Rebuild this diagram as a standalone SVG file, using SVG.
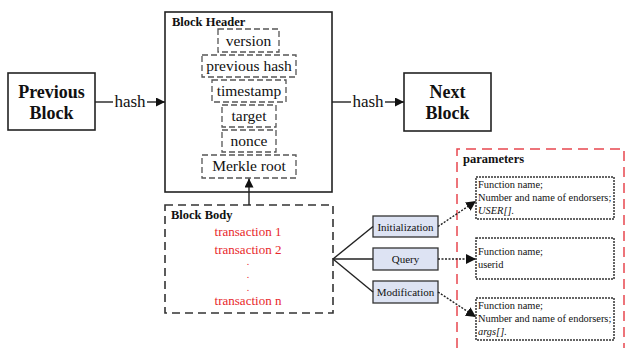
<svg xmlns="http://www.w3.org/2000/svg" width="625" height="348" viewBox="0 0 625 348">
  <defs>
    <marker id="arr" viewBox="0 0 10 10" refX="10" refY="5" markerWidth="9" markerHeight="9" markerUnits="userSpaceOnUse" orient="auto">
      <path d="M0,0 L10,5 L0,10 Z" fill="#111"/>
    </marker>
    <marker id="arr2" viewBox="0 0 10 10" refX="10" refY="5" markerWidth="10" markerHeight="10" markerUnits="userSpaceOnUse" orient="auto">
      <path d="M0,0 L10,5 L0,10 Z" fill="#111"/>
    </marker>
  </defs>
  <style>
    text { font-family: "Liberation Serif", "Times New Roman", serif; fill: #111; }
    .blk { fill: #fff; stroke: #222; stroke-width: 1.6; }
    .big { font-size: 18px; font-weight: bold; text-anchor: middle; }
    .lbl { font-size: 12.5px; font-weight: bold; }
    .fld { fill: #fff; stroke: #555; stroke-width: 1.3; stroke-dasharray: 6 3; }
    .fldt { font-size: 15.5px; text-anchor: middle; }
    .hash { font-size: 17px; text-anchor: middle; }
    .tx { font-size: 13px; text-anchor: middle; fill: #e8262a; }
    .txd { font-size: 10px; text-anchor: middle; fill: #e8262a; }
    .op { fill: #dde3f3; stroke: #333; stroke-width: 1.3; }
    .opt { font-size: 11px; text-anchor: middle; }
    .par { fill: #fff; stroke: #333; stroke-width: 1.5; stroke-dasharray: 2 1; }
    .part { font-size: 10.4px; }
    .link { stroke: #222; stroke-width: 1.4; fill: none; }
    .dot { stroke: #222; stroke-width: 1.4; fill: none; stroke-dasharray: 2 1.5; }
  </style>

  <!-- parameters frame -->
  <g id="parameters">
    <path d="M457,348 L457,149 L624,149 L624,348" fill="none" stroke="#e8474f" stroke-width="1.5" stroke-dasharray="10 6"/>
    <text class="lbl" x="463" y="163">parameters</text>
  </g>

  <g id="previous-block">
    <rect class="blk" x="8" y="73" width="87" height="57"/>
    <text class="big" x="51.5" y="98">Previous</text>
    <text class="big" x="51.5" y="119">Block</text>
  </g>

  <g id="next-block">
    <rect class="blk" x="404" y="73" width="87" height="58"/>
    <text class="big" x="447.5" y="98">Next</text>
    <text class="big" x="447.5" y="119">Block</text>
  </g>

  <g id="block-header">
    <rect class="blk" x="165" y="12" width="167" height="180"/>
    <text class="lbl" x="172" y="26">Block Header</text>
    <rect class="fld" x="218" y="29" width="61" height="23"/>
    <text class="fldt" x="248.5" y="46">version</text>
    <rect class="fld" x="202" y="55" width="94" height="22"/>
    <text class="fldt" x="249" y="71">previous hash</text>
    <rect class="fld" x="212" y="80" width="74" height="22"/>
    <text class="fldt" x="249" y="96">timestamp</text>
    <rect class="fld" x="222" y="105" width="54" height="22"/>
    <text class="fldt" x="249" y="121">target</text>
    <rect class="fld" x="222" y="130" width="54" height="22"/>
    <text class="fldt" x="249" y="146">nonce</text>
    <rect class="fld" x="202" y="155" width="94" height="23"/>
    <text class="fldt" x="249" y="171">Merkle root</text>
  </g>

  <g id="block-body">
    <rect x="165" y="205" width="168" height="108" fill="#fff" stroke="#333" stroke-width="1.6" stroke-dasharray="8 5"/>
    <text class="lbl" x="171" y="219">Block Body</text>
    <text class="tx" x="248" y="236">transaction 1</text>
    <text class="tx" x="248" y="254">transaction 2</text>
    <text class="txd" x="248" y="265">.</text>
    <text class="txd" x="248" y="278">.</text>
    <text class="txd" x="248" y="291">.</text>
    <text class="tx" x="248" y="305">transaction n</text>
  </g>

  <g id="initialization">
    <rect class="op" x="373" y="216" width="65" height="21"/>
    <text class="opt" x="405.5" y="230.5">Initialization</text>
  </g>
  <g id="query">
    <rect class="op" x="373" y="248" width="65" height="22"/>
    <text class="opt" x="405.5" y="263">Query</text>
  </g>
  <g id="modification">
    <rect class="op" x="373" y="281" width="65" height="22"/>
    <text class="opt" x="405.5" y="296">Modification</text>
  </g>

  <g id="param-init">
    <rect class="par" x="476" y="177" width="138" height="42"/>
    <text class="part" x="478" y="188">Function name;</text>
    <text class="part" x="478" y="201">Number and name of endorsers;</text>
    <text class="part" x="478" y="214" font-style="italic">USER[].</text>
  </g>
  <g id="param-query">
    <rect class="par" x="476" y="238" width="138" height="41"/>
    <text class="part" x="478" y="255">Function name;</text>
    <text class="part" x="478" y="268">userid</text>
  </g>
  <g id="param-mod">
    <rect class="par" x="476" y="298" width="138" height="42"/>
    <text class="part" x="478" y="309">Function name;</text>
    <text class="part" x="478" y="322">Number and name of endorsers;</text>
    <text class="part" x="478" y="335" font-style="italic">args[].</text>
  </g>

  <g id="connectors">
    <!-- hash links between blocks -->
    <line class="link" x1="95" y1="102" x2="113" y2="102"/>
    <text class="hash" x="130" y="107">hash</text>
    <line class="link" x1="147" y1="102" x2="165" y2="102" marker-end="url(#arr)"/>
    <line class="link" x1="332" y1="102" x2="351" y2="102"/>
    <text class="hash" x="368" y="107">hash</text>
    <line class="link" x1="385" y1="102" x2="404" y2="102" marker-end="url(#arr)"/>
    <!-- body to Merkle root -->
    <line class="link" x1="249" y1="205" x2="249" y2="178.5" marker-end="url(#arr)"/>
    <!-- fan out to operations -->
    <line class="link" x1="333" y1="259" x2="373" y2="226.5"/>
    <line class="link" x1="333" y1="259" x2="373" y2="259"/>
    <line class="link" x1="333" y1="259" x2="373" y2="292"/>
    <!-- operations to parameter sets -->
    <line class="dot" x1="438" y1="226.5" x2="476" y2="201" marker-end="url(#arr2)"/>
    <line class="dot" x1="438" y1="259" x2="476" y2="259" marker-end="url(#arr2)"/>
    <line class="dot" x1="438" y1="292" x2="476" y2="317" marker-end="url(#arr2)"/>
  </g>
</svg>
